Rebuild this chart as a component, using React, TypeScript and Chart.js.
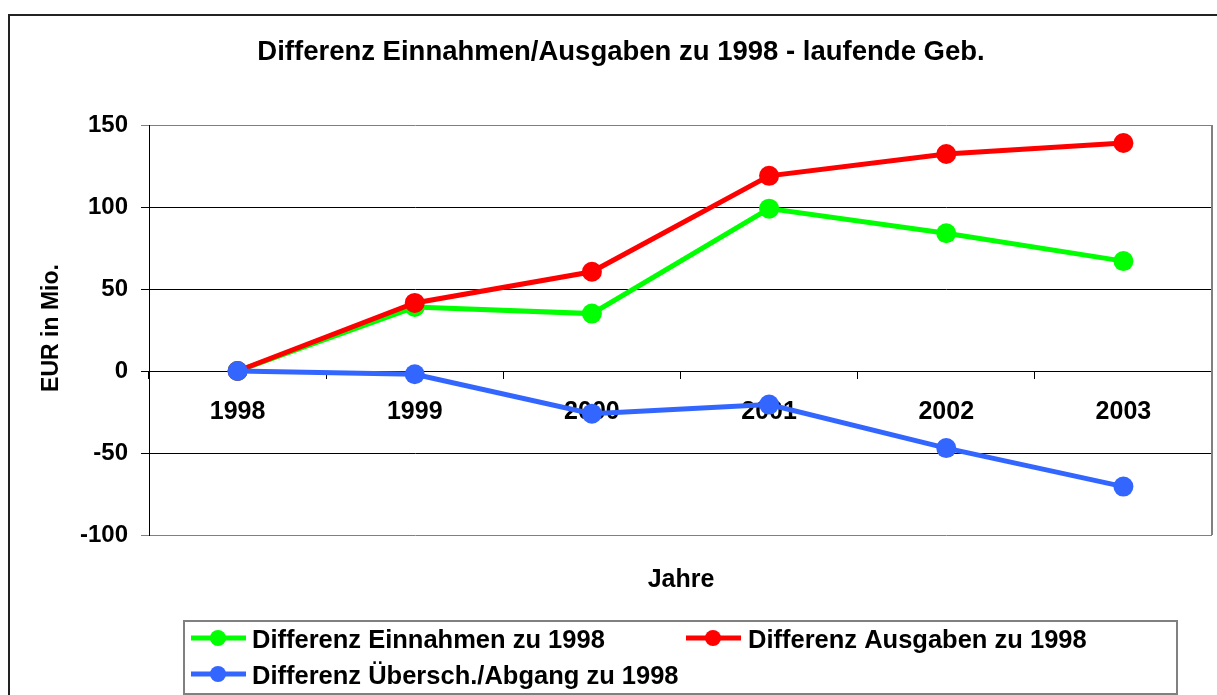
import React, { useEffect, useRef } from "react";
import { Chart, registerables } from "chart.js";

Chart.register(...registerables);

const years = ["1998", "1999", "2000", "2001", "2002", "2003"];
const einnahmen = [0, 39, 35, 99, 84, 67];
const ausgaben = [0, 41.5, 60.5, 119, 132.3, 139];
const ueberschuss = [0, -2, -26, -20.5, -47, -70.5];
const yMin = -100;
const yMax = 150;
const yStep = 50;

const chartTitle = "Differenz Einnahmen/Ausgaben zu 1998 - laufende Geb.";
const yTitle = "EUR in Mio.";
const xTitle = "Jahre";
const seriesNames = [
  "Differenz Einnahmen zu 1998",
  "Differenz Ausgaben zu 1998",
  "Differenz Übersch./Abgang zu 1998",
];
const seriesColors = ["#00FF00", "#FF0000", "#3366FF"];

const FONT = '"Liberation Sans", Arial, Helvetica, sans-serif';

export default function App() {
  const ref = useRef<HTMLCanvasElement | null>(null);

  useEffect(() => {
    const canvas = ref.current;
    if (!canvas) return;

    const decor = {
      id: "decor",
      beforeDraw(chart: any) {
        const ctx = chart.ctx;
        ctx.save();
        ctx.fillStyle = "#fff";
        ctx.fillRect(0, 0, chart.width, chart.height);
        ctx.strokeStyle = "#222";
        ctx.lineWidth = 2;
        ctx.strokeRect(9, 15, 1400, 900);
        ctx.restore();
      },
      afterDraw(chart: any) {
        const ctx = chart.ctx;
        const a = chart.chartArea;
        ctx.save();
        // plot border right
        ctx.strokeStyle = "#808080";
        ctx.lineWidth = 2;
        ctx.beginPath();
        ctx.moveTo(a.right, a.top);
        ctx.lineTo(a.right, a.bottom);
        ctx.stroke();

        // title
        ctx.fillStyle = "#000";
        ctx.font = `bold 27.5px ${FONT}`;
        ctx.textAlign = "center";
        ctx.textBaseline = "alphabetic";
        ctx.fillText(chartTitle, 621, 60);

        // y title
        ctx.save();
        ctx.translate(58, 328);
        ctx.rotate(-Math.PI / 2);
        ctx.font = `bold 23px ${FONT}`;
        ctx.textAlign = "center";
        ctx.fillText(yTitle, 0, 0);
        ctx.restore();

        // x title
        ctx.font = `bold 25px ${FONT}`;
        ctx.textAlign = "center";
        ctx.fillText(xTitle, 681, 587);

        // legend box
        ctx.strokeStyle = "#808080";
        ctx.lineWidth = 2;
        ctx.strokeRect(184, 621, 993, 73);

        const items = [
          { i: 0, lx: 191, tx: 252, y: 638, by: 648 },
          { i: 1, lx: 686, tx: 748, y: 638, by: 648 },
          { i: 2, lx: 191, tx: 252, y: 674, by: 684 },
        ];
        items.forEach((it) => {
          const c = seriesColors[it.i];
          ctx.strokeStyle = c;
          ctx.lineWidth = 5;
          ctx.beginPath();
          ctx.moveTo(it.lx, it.y);
          ctx.lineTo(it.lx + 55, it.y);
          ctx.stroke();
          ctx.fillStyle = c;
          ctx.beginPath();
          ctx.arc(it.lx + 27, it.y, 8, 0, Math.PI * 2);
          ctx.fill();
          ctx.fillStyle = "#000";
          ctx.font = `bold 25.5px ${FONT}`;
          ctx.textAlign = "left";
          ctx.textBaseline = "alphabetic";
          ctx.fillText(seriesNames[it.i], it.tx, it.by);
        });
        ctx.restore();
      },
    };

    const mk = (idx: number, data: number[], order: number) => ({
      label: seriesNames[idx],
      data,
      borderColor: seriesColors[idx],
      backgroundColor: seriesColors[idx],
      pointBackgroundColor: seriesColors[idx],
      pointBorderColor: seriesColors[idx],
      borderWidth: 5,
      pointRadius: 10,
      pointHoverRadius: 10,
      pointBorderWidth: 0,
      tension: 0,
      fill: false,
      order,
      clip: false,
    });

    const chart = new Chart(canvas, {
      type: "line",
      data: {
        labels: years,
        datasets: [
          mk(0, einnahmen, 2),
          mk(1, ausgaben, 1),
          mk(2, ueberschuss, 0),
        ],
      },
      options: {
        responsive: false,
        animation: false,
        devicePixelRatio: 1,
        events: [],
        layout: {
          autoPadding: false,
          padding: { left: 0, top: 125, right: 5, bottom: 160 },
        },
        plugins: {
          legend: { display: false },
          title: { display: false },
          tooltip: { enabled: false },
        },
        scales: {
          x: {
            type: "category",
            position: { y: 0 } as any,
            offset: true,
            afterFit: (scale: any) => {
              scale.paddingLeft = 0;
              scale.paddingRight = 0;
            },
            grid: {
              offset: true,
              drawOnChartArea: false,
              drawTicks: true,
              tickLength: 7,
              color: "#000",
            },
            border: { display: true, color: "#000" },
            ticks: {
              color: "#000",
              font: { family: FONT, size: 25, weight: "bold" },
              padding: 19,
              maxRotation: 0,
              autoSkip: false,
            },
          },
          y: {
            min: yMin,
            max: yMax,
            position: "left",
            afterFit: (scale: any) => {
              scale.width = 149;
              scale.paddingLeft = 0;
              scale.paddingRight = 0;
            },
            ticks: {
              stepSize: yStep,
              color: "#000",
              font: { family: FONT, size: 24, weight: "bold" },
              padding: 13,
            },
            grid: {
              drawTicks: true,
              tickLength: 8,
              lineWidth: 1,
              color: (c: any) =>
                c.tick && (c.tick.value === yMax || c.tick.value === yMin)
                  ? "#808080"
                  : "#000",
            },
            border: { display: true, color: "#000", width: 1 },
          },
        },
      },
      plugins: [decor],
    });

    return () => chart.destroy();
  }, []);

  return (
    <div style={{ position: "fixed", left: 0, top: 0, width: 1217, height: 695 }}>
      <canvas ref={ref} width={1217} height={695} style={{ display: "block" }} />
    </div>
  );
}
